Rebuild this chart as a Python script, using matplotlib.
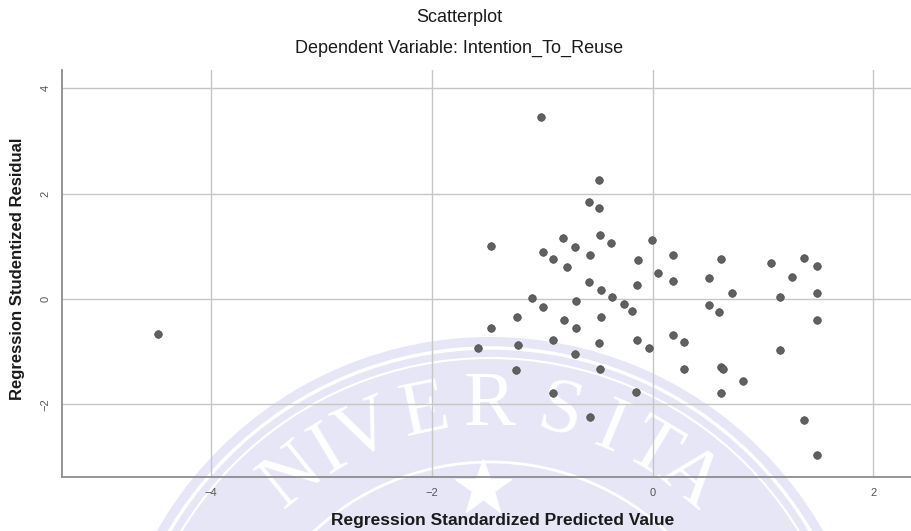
# SPSS-style residual scatterplot (Intention_To_Reuse) with faint seal watermark
import numpy as np
import matplotlib
matplotlib.use('Agg')
import matplotlib.pyplot as plt
from matplotlib.patches import Circle

plt.rcParams['font.family'] = ['Liberation Sans', 'DejaVu Sans']

# data
pred = [-4.48, -1.01, -0.49, -0.58, -0.49, -1.46, -0.81, -0.48, -0.38, -0.01,
        -0.99, -0.70, -0.90, -0.78, -0.57, -0.13, 0.18, 0.05, 0.18, -0.14,
        -0.58, -0.47, -0.37, -1.09, -0.99, -0.69, -0.26, -0.19, -1.23, -0.80,
        -0.69, -0.47, -1.46, -1.58, -1.22, -0.90, -0.70, -0.49, -0.14, -0.03,
        0.18, 0.28, -1.24, -0.48, 0.28, -0.90, -0.15, -0.57,
        0.62, 1.07, 1.37, 1.49, 0.51, 1.26, 0.72, 1.15, 1.49, 0.51,
        0.60, 1.49, 1.15, 0.62, 0.64, 0.82, 0.62, 1.37, 1.49]
resid = [-0.67, 3.46, 2.26, 1.84, 1.73, 1.01, 1.16, 1.22, 1.06, 1.12,
         0.89, 0.99, 0.76, 0.61, 0.84, 0.74, 0.84, 0.49, 0.34, 0.27,
         0.32, 0.17, 0.04, 0.02, -0.15, -0.04, -0.10, -0.23, -0.34, -0.40,
         -0.55, -0.34, -0.55, -0.93, -0.87, -0.78, -1.05, -0.84, -0.78, -0.93,
         -0.68, -0.82, -1.35, -1.33, -1.33, -1.79, -1.77, -2.24,
         0.76, 0.68, 0.78, 0.63, 0.40, 0.42, 0.11, 0.04, 0.11, -0.11,
         -0.25, -0.40, -0.97, -1.29, -1.33, -1.56, -1.79, -2.30, -2.97]
x_ticks = [-4, -2, 0, 2]
y_ticks = [-2, 0, 2, 4]

W, H = 911, 531
fig = plt.figure(figsize=(W / 100, H / 100), dpi=100)
fig.patch.set_facecolor('white')

# watermark (university seal), drawn in pixel coordinates
wm = fig.add_axes([0, 0, 1, 1], zorder=0)
wm.set_xlim(0, W)
wm.set_ylim(H, 0)
wm.axis('off')
cx, cy = 490, 720
wm.add_patch(Circle((cx, cy), 383, color='#e6e6f7', lw=0))
for r, lw in ((372, 2.5), (362, 1.5), (258, 2.0)):
    wm.add_patch(Circle((cx, cy), r, fill=False, ec='white', lw=lw))
letters = 'NIVERSITA'
angles = [129, 121, 113.5, 102, 90, 77, 67.5, 59, 50.5]
for ch, a in zip(letters, angles):
    t = np.radians(a)
    wm.text(cx + 314 * np.cos(t), cy - 314 * np.sin(t), ch, color='white',
            family='Liberation Serif', fontsize=56, ha='center', va='center',
            rotation=a - 90, rotation_mode='anchor')
wm.plot([483], [488], marker='*', ms=42, color='white', mec='white')

# main plot
ax = fig.add_axes([62 / W, 1 - 477 / H, 1 - 62 / W, (477 - 70) / H], zorder=1)
ax.patch.set_alpha(0)
ax.scatter(pred, resid, s=30, color='#606060', edgecolors='#4a4a4a',
           linewidths=0.5, zorder=3)
ax.set_xlim(-5.35, 2.34)
ax.set_ylim(-3.38, 4.35)
ax.set_xticks(x_ticks)
ax.set_yticks(y_ticks)
ax.grid(True, color='#c6c6c6', lw=1.0)
ax.set_axisbelow(True)
for s in ('top', 'right'):
    ax.spines[s].set_visible(False)
for s in ('left', 'bottom'):
    ax.spines[s].set_color('#8c8c8c')
    ax.spines[s].set_linewidth(1.3)
ax.tick_params(length=0, labelsize=8, labelcolor='#555555', pad=8)
plt.setp(ax.get_yticklabels(), rotation=90, va='center')

fig.text(459 / W, 1 - 18 / H, 'Scatterplot', ha='center', va='center',
         fontsize=13, color='#1a1a1a')
fig.text(459 / W, 1 - 48 / H, 'Dependent Variable: Intention_To_Reuse',
         ha='center', va='center', fontsize=13, color='#1a1a1a')
fig.text(503 / W, 1 - 520 / H, 'Regression Standardized Predicted Value',
         ha='center', va='center', fontsize=12.5, fontweight='bold', color='#1a1a1a')
fig.text(18 / W, 1 - 269 / H, 'Regression Studentized Residual', rotation=90,
         ha='center', va='center', fontsize=12, fontweight='bold', color='#1a1a1a')

fig.savefig('out.png', dpi=100)
